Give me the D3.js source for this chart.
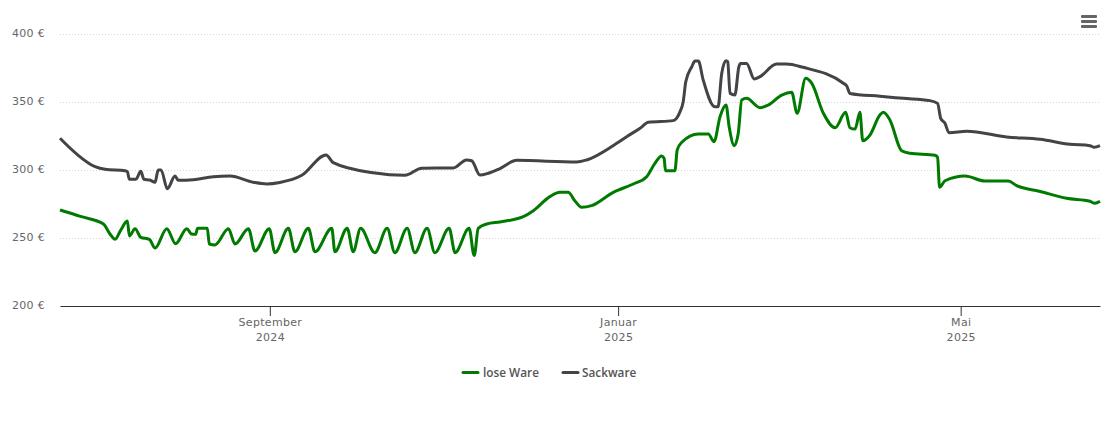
<!DOCTYPE html>
<html>
<head>
<meta charset="utf-8">
<script src="https://cdn.jsdelivr.net/npm/d3@7"></script>
<style>
    html, body { margin: 0; padding: 0; background: #fff; }
    svg { display: block; font-family: "Open Sans", sans-serif; }
    .yAxis text, .xAxis text { fill: #666; font-size: 11px; letter-spacing: 0.3px; font-family: "DejaVu Sans", sans-serif; }
    .gridLine { stroke: #d8d8d8; stroke-width: 1; stroke-dasharray: 1 2; }
    .legendText { fill: #555; font-size: 11.8px; font-weight: 600; }
</style>
</head>
<body>
<script>
//days counted from the left edge of the chart (2024-06-19 noon), values in euro
var looseDays = [0, 7.5, 15.2, 17.5, 19.3, 21.3, 23.6, 24.3, 26.3, 28.3, 31.3, 33.3, 37.4, 40.5, 44.4, 46.1, 47.5, 48.2, 51.6, 52.3, 54.3,
    59, 61.3, 66, 68.3, 73.3, 75.3, 80, 82.3, 87, 89.3, 95.2, 96.3, 100.6, 102.7, 105.3, 110.3, 114.6, 117.3, 121.6, 124.3,
    128.6, 131.3, 136.3, 138.4, 143.3, 145.1, 146.5, 149.5, 154.1, 162.3, 165.8, 171.6, 175.1, 178, 180.4, 182.7, 186.2, 193.8, 200.8, 205.5,
    208.4, 210.7, 211.6, 212.1, 215.4, 216.2, 217.8, 223.6, 227.1, 229.1, 231.2, 233.3, 234.4, 236.2, 237.6, 238.8, 240.5, 245.2, 248.1, 252.8,
    256.3, 258.2, 261.2, 263.3, 267.4, 271.5, 275.2, 276.7, 278.5, 280.2, 281.2, 283.7, 287.2, 288.4, 290.7, 294.8, 297.7, 306.5, 307.4, 308.1,
    310, 317, 324, 332.2, 335.1, 343, 352.6, 360.8, 362.5, 364.3];
var looseValues = [270.6, 265.7, 260.3, 252.9, 249, 255.9, 262.5, 251.5, 256.8, 250.5, 249, 242.6, 256.8, 245.8, 256.8, 252.9, 252.7, 257.1, 257.1, 245.6, 244.9,
    256.8, 245.6, 256.8, 240.4, 256.8, 239.2, 257.1, 239.9, 257.1, 239.9, 257.1, 239.9, 257.1, 239.9, 257.1, 239.2, 257.1, 239.2, 257.1, 239.2,
    257.1, 239.2, 257.1, 239.2, 257.1, 237, 257.1, 260.3, 261.8, 265.7, 270.1, 280.4, 283.6, 283.6, 277.2, 272.6, 273.8, 283.6, 289.7, 295.1,
    304.9, 310.3, 308.6, 299.5, 299.5, 314.7, 320.4, 326.5, 326.5, 320.8, 339.2, 347.8, 331.8, 317.9, 327.2, 351.5, 352.7, 345.8, 347.8, 355.1,
    357.1, 341.7, 367.4, 363.8, 341.7, 331.1, 342.4, 331.1, 330.1, 342.4, 321.5, 325.7, 340.4, 342.4, 336.8, 314.2, 312.3, 310.8, 309.3, 287.3,
    292.1, 295.6, 291.9, 291.9, 288.5, 284.4, 279.2, 277, 275.5, 277];

var sackDays = [0, 5.8, 12.3, 15.8, 22.8, 23.6, 24.3, 26.6, 28.3, 29.4, 31.5, 33.3, 34.4, 35.4, 37.6, 40.3, 41.4, 46.7, 53.7, 59.5,
    67.7, 72.4, 77, 84.7, 93.2, 95.7, 109.7, 120.8, 126.7, 137.8, 142.4, 144.2, 147.1, 150, 154.1, 160, 181, 184.5, 195,
    198.5, 203.2, 206.1, 214.8, 217.2, 218.3, 219.2, 221.3, 222.4, 223.6, 225.3, 229.4, 230.5, 231.8, 233.3, 233.9, 234.7, 236.4, 237.8, 238.4,
    240.5, 243.2, 245.2, 251, 254.5, 260.3, 274.4, 275.6, 276.7, 287.2, 295.4, 304.7, 307.4, 308.5, 310, 311.4, 317.6, 331.6, 343.3, 353.8,
    360.8, 362.3, 364.3];
var sackValues = [323.3, 311.8, 302.4, 300.5, 299.5, 298.8, 293.2, 293.2, 299, 293.2, 292.6, 291, 300, 300, 286.2, 295.6, 292.4, 292.9, 295.1, 295.6,
    291, 289.7, 290.8, 296.1, 311, 305.4, 298, 296.1, 301.3, 301.5, 307.4, 306.8, 296.3, 297.6, 301.1, 307.1, 305.9, 307.4, 319.6,
    324.5, 330.7, 335.1, 336.3, 342.9, 350.2, 364.9, 375.9, 380.1, 380.1, 366.2, 346.5, 346.5, 371.1, 380.4, 379.6, 356.4, 355.1, 375.9, 378.4,
    378.4, 366.9, 368.6, 377.9, 377.9, 375.5, 363.8, 361.8, 356.3, 354.2, 352.7, 351, 349, 338, 334.3, 327.4, 328.5, 324.3, 322.6, 318.9,
    317.9, 316.7, 317.9];

var seriesNames = ["lose Ware", "Sackware"];
var seriesColors = ["#007a00", "#434348"];
var yTicks = [200, 250, 300, 350, 400];
var xTickDates = ["2024-09-01", "2025-01-01", "2025-05-01"];
var xTickMonths = ["September", "Januar", "Mai"];
var xTickYears = ["2024", "2025", "2025"];
var startDate = Date.UTC(2024, 5, 19, 12);
var lastDay = 364.3;

//chart frame dimensions
var width = 1110,
    height = 423,
    plotLeft = 60,
    plotRight = 1100,
    plotTop = 34,
    plotBottom = 306;

function toDate(day){
    return new Date(startDate + day * 86400000);
}

var svg = d3.select("body")
    .append("svg")
    .attr("width", width)
    .attr("height", height);

var x = d3.scaleUtc()
    .domain([toDate(0), toDate(lastDay)])
    .range([plotLeft, plotRight]);

var y = d3.scaleLinear()
    .domain([200, 400])
    .range([plotBottom, plotTop]);

//dotted grid lines
svg.selectAll(".gridLine")
    .data(yTicks.slice(1))
    .enter()
    .append("line")
    .attr("class", "gridLine")
    .attr("x1", plotLeft)
    .attr("x2", plotRight)
    .attr("y1", function(d){ return y(d) + 0.5; })
    .attr("y2", function(d){ return y(d) + 0.5; });

//y axis, labels only
var yAxis = svg.append("g")
    .attr("class", "yAxis")
    .attr("transform", "translate(" + plotLeft + ",-1)")
    .call(d3.axisLeft(y)
        .tickValues(yTicks)
        .tickSize(0)
        .tickPadding(15)
        .tickFormat(function(d){ return d + " €"; }));
yAxis.select(".domain").remove();

//x axis with two line labels
var xAxis = svg.append("g")
    .attr("class", "xAxis")
    .attr("transform", "translate(0," + plotBottom + ")")
    .call(d3.axisBottom(x)
        .tickValues(xTickDates.map(function(d){ return new Date(d + "T00:00:00Z"); }))
        .tickSize(10)
        .tickSizeOuter(0)
        .tickFormat(""));
xAxis.select(".domain").attr("stroke", "#333");
xAxis.selectAll(".tick line").attr("stroke", "#333");
xAxis.selectAll(".tick text").each(function(d, i){
    var label = d3.select(this).attr("y", null).attr("dy", null);
    label.append("tspan").attr("x", 0).attr("y", 20).text(xTickMonths[i]);
    label.append("tspan").attr("x", 0).attr("y", 35).text(xTickYears[i]);
});

//series lines
var line = d3.line()
    .x(function(d){ return x(toDate(d[0])); })
    .y(function(d){ return y(d[1]); })
    .curve(d3.curveMonotoneX);

svg.append("path")
    .datum(d3.zip(looseDays, looseValues))
    .attr("fill", "none")
    .attr("stroke", seriesColors[0])
    .attr("stroke-width", 3)
    .attr("stroke-linejoin", "round")
    .attr("d", line);

svg.append("path")
    .datum(d3.zip(sackDays, sackValues))
    .attr("fill", "none")
    .attr("stroke", seriesColors[1])
    .attr("stroke-width", 3)
    .attr("stroke-linejoin", "round")
    .attr("d", line);

//legend
var legendX = [463, 563];
var legend = svg.selectAll(".legendItem")
    .data(seriesNames)
    .enter()
    .append("g")
    .attr("class", "legendItem")
    .attr("transform", function(d, i){ return "translate(" + legendX[i] + ",372.5)"; });
legend.append("line")
    .attr("x2", 15)
    .attr("stroke", function(d, i){ return seriesColors[i]; })
    .attr("stroke-width", 3)
    .attr("stroke-linecap", "round");
legend.append("text")
    .attr("class", "legendText")
    .attr("x", function(d, i){ return i == 0 ? 20 : 19; })
    .attr("y", 4.5)
    .text(function(d){ return d; });

//menu button
svg.selectAll(".menuBar")
    .data([0, 1, 2])
    .enter()
    .append("rect")
    .attr("class", "menuBar")
    .attr("x", 1081)
    .attr("y", function(d){ return 15 + d * 5; })
    .attr("width", 16)
    .attr("height", 3)
    .attr("rx", 1)
    .attr("fill", "#666");
</script>
</body>
</html>
